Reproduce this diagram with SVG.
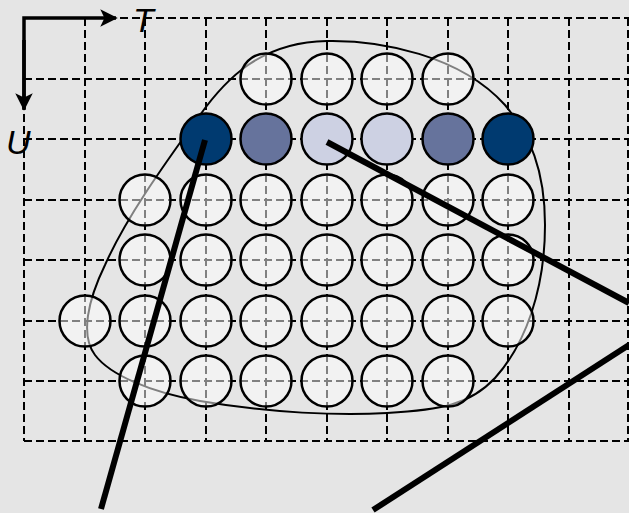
<svg xmlns="http://www.w3.org/2000/svg" width="629" height="513" viewBox="0 0 629 513">
<defs>
<style>
.grid{stroke:#000;stroke-width:2;stroke-dasharray:8 4;fill:none}
.blob{fill:none;stroke:#000;stroke-width:2}
.c{stroke:#000;stroke-width:2.5}
.w{fill:#fff;fill-opacity:0.5}
.d{fill:#003a70}
.m{fill:#66739c}
.l{fill:#cdd1e3}
.thick{stroke:#000;stroke-width:6;fill:none}
.axis{stroke:#000;stroke-width:3.5;fill:none}
.lab{font-family:"Liberation Sans",Arial,sans-serif;font-style:italic;font-size:34px;fill:#000}
</style>
<marker id="ah" markerWidth="5" markerHeight="5" refX="4.5" refY="2.5" orient="auto" markerUnits="strokeWidth">
<path d="M0,0 L5,2.5 L0,5 L1.2,2.5 Z" fill="#000"/>
</marker>
</defs>
<rect width="629" height="513" fill="#e5e5e5"/>
<g id="grid" class="grid">
<path d="M24,18H629M24,79H629M24,139H629M24,200H629M24,260H629M24,321H629M24,381H629M24,441H629"/>
<path d="M24,18V441M85,18V441M145,18V441M206,18V441M266,18V441M327,18V441M387,18V441M448,18V441M508,18V441M569,18V441M628,18V441"/>
</g>
<g id="region">
<path class="blob" d="M327,41 C380,40 460,55 505,105 C530,135 545,170 545,225 C545,290 525,345 495,378 C470,405 440,410 387,413 C340,416 270,413 200,401 C150,392 110,375 95,355 C80,335 88,300 105,265 C125,220 160,170 200,115 C225,80 260,42 327,41 Z"/>
</g>
<g id="axes">
<path class="axis" d="M24,110V18H116" marker-end="url(#ah)"/>
<path class="axis" d="M24,40V109" marker-end="url(#ah)"/>
<text class="lab" x="133" y="31.5">T</text>
<text class="lab" x="6" y="154">U</text>
</g>
<g id="nodes">
<g id="r1">
<circle class="c w" cx="266" cy="79" r="25.5"/>
<circle class="c w" cx="327" cy="79" r="25.5"/>
<circle class="c w" cx="387" cy="79" r="25.5"/>
<circle class="c w" cx="448" cy="79" r="25.5"/>
</g>
<g id="r2">
<circle class="c d" cx="206" cy="139" r="25.5"/>
<circle class="c m" cx="266" cy="139" r="25.5"/>
<circle class="c l" cx="327" cy="139" r="25.5"/>
<circle class="c l" cx="387" cy="139" r="25.5"/>
<circle class="c m" cx="448" cy="139" r="25.5"/>
<circle class="c d" cx="508" cy="139" r="25.5"/>
</g>
<g id="r3">
<circle class="c w" cx="145" cy="200" r="25.5"/>
<circle class="c w" cx="206" cy="200" r="25.5"/>
<circle class="c w" cx="266" cy="200" r="25.5"/>
<circle class="c w" cx="327" cy="200" r="25.5"/>
<circle class="c w" cx="387" cy="200" r="25.5"/>
<circle class="c w" cx="448" cy="200" r="25.5"/>
<circle class="c w" cx="508" cy="200" r="25.5"/>
</g>
<g id="r4">
<circle class="c w" cx="145" cy="260" r="25.5"/>
<circle class="c w" cx="206" cy="260" r="25.5"/>
<circle class="c w" cx="266" cy="260" r="25.5"/>
<circle class="c w" cx="327" cy="260" r="25.5"/>
<circle class="c w" cx="387" cy="260" r="25.5"/>
<circle class="c w" cx="448" cy="260" r="25.5"/>
<circle class="c w" cx="508" cy="260" r="25.5"/>
</g>
<g id="r5">
<circle class="c w" cx="85" cy="321" r="25.5"/>
<circle class="c w" cx="145" cy="321" r="25.5"/>
<circle class="c w" cx="206" cy="321" r="25.5"/>
<circle class="c w" cx="266" cy="321" r="25.5"/>
<circle class="c w" cx="327" cy="321" r="25.5"/>
<circle class="c w" cx="387" cy="321" r="25.5"/>
<circle class="c w" cx="448" cy="321" r="25.5"/>
<circle class="c w" cx="508" cy="321" r="25.5"/>
</g>
<g id="r6">
<circle class="c w" cx="145" cy="381" r="25.5"/>
<circle class="c w" cx="206" cy="381" r="25.5"/>
<circle class="c w" cx="266" cy="381" r="25.5"/>
<circle class="c w" cx="327" cy="381" r="25.5"/>
<circle class="c w" cx="387" cy="381" r="25.5"/>
<circle class="c w" cx="448" cy="381" r="25.5"/>
</g>
</g>
<g id="connectors" class="thick">
<path d="M205,140 L101,509"/>
<path d="M327,142 L629,303"/>
<path d="M629,345 L373,510"/>
</g>
</svg>
